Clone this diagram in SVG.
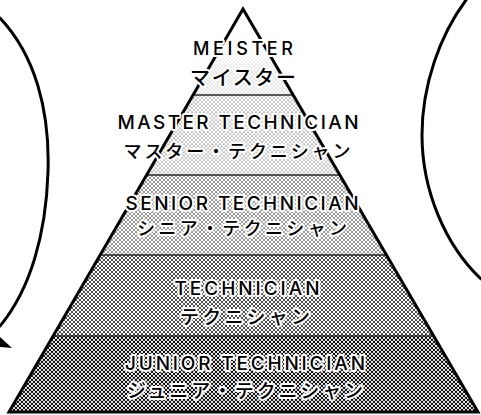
<svg xmlns="http://www.w3.org/2000/svg" width="481" height="415" viewBox="0 0 481 415">
<style>
.edge{fill:none;stroke:#000;stroke-width:3;stroke-linejoin:miter}
.div{stroke:#2a2a2a;stroke-width:1.6}
.curve{fill:none;stroke:#000;stroke-width:3;stroke-linecap:round}
.en{font-family:Inter,"Liberation Sans",Arial,sans-serif;font-weight:500;font-size:19px;fill:#000;stroke:#fff;stroke-width:4;stroke-linejoin:round;paint-order:stroke;text-anchor:middle}
.jp{font-family:"Noto Sans CJK JP","Noto Sans",sans-serif;font-weight:500;font-size:18px;fill:#000;stroke:#fff;stroke-width:4;stroke-linejoin:round;paint-order:stroke;text-anchor:middle}
</style>
<defs>
<pattern id="d1" width="4" height="4" patternUnits="userSpaceOnUse"><circle cx="0" cy="0" r="0.4"/><circle cx="4" cy="0" r="0.4"/><circle cx="0" cy="4" r="0.4"/><circle cx="4" cy="4" r="0.4"/><circle cx="2" cy="2" r="0.4"/></pattern>
<pattern id="d2" width="4" height="4" patternUnits="userSpaceOnUse"><circle cx="0" cy="0" r="0.55"/><circle cx="4" cy="0" r="0.55"/><circle cx="0" cy="4" r="0.55"/><circle cx="4" cy="4" r="0.55"/><circle cx="2" cy="2" r="0.55"/></pattern>
<pattern id="d3" width="4" height="4" patternUnits="userSpaceOnUse"><circle cx="0" cy="0" r="0.75"/><circle cx="4" cy="0" r="0.75"/><circle cx="0" cy="4" r="0.75"/><circle cx="4" cy="4" r="0.75"/><circle cx="2" cy="2" r="0.75"/></pattern>
<pattern id="d4" width="4" height="4" patternUnits="userSpaceOnUse"><circle cx="0" cy="0" r="0.95"/><circle cx="4" cy="0" r="0.95"/><circle cx="0" cy="4" r="0.95"/><circle cx="4" cy="4" r="0.95"/><circle cx="2" cy="2" r="0.95"/></pattern>
<pattern id="d5" width="4" height="4" patternUnits="userSpaceOnUse"><circle cx="0" cy="0" r="1.15"/><circle cx="4" cy="0" r="1.15"/><circle cx="0" cy="4" r="1.15"/><circle cx="4" cy="4" r="1.15"/><circle cx="2" cy="2" r="1.15"/></pattern>
<linearGradient id="fade" x1="0" y1="0" x2="0" y2="1"><stop offset="0" stop-color="#fff" stop-opacity="0"/><stop offset="0.45" stop-color="#fff" stop-opacity="0"/><stop offset="0.75" stop-color="#fff" stop-opacity="1"/><stop offset="1" stop-color="#fff" stop-opacity="1"/></linearGradient>
<mask id="topmask" maskUnits="userSpaceOnUse" x="0" y="9" width="481" height="86"><rect x="0" y="9" width="481" height="86" fill="url(#fade)"/></mask>
<clipPath id="tri"><polygon points="243,9 9,412 478,412"/></clipPath>
</defs>
<rect width="481" height="415" fill="#fff"/>
<g id="bubbles">
<path class="curve" d="M0,18 C35,55 50,110 48,172 C46,235 30,290 0,326"/>
<polygon points="0,337 12,348 0,347" fill="#000"/>
<path class="curve" d="M466,0 C440,35 422,85 422,135 C422,190 445,245 481,279"/>
</g>
<g id="pyramid" clip-path="url(#tri)">
<rect x="0" y="9" width="481" height="86" fill="url(#d1)" mask="url(#topmask)"/>
<rect x="0" y="95" width="481" height="80" fill="url(#d2)"/>
<rect x="0" y="175" width="481" height="80" fill="url(#d3)"/>
<rect x="0" y="255" width="481" height="81" fill="url(#d4)"/>
<rect x="0" y="336" width="481" height="78" fill="url(#d5)"/>
</g>
<g id="connectors" clip-path="url(#tri)">
<line class="div" x1="0" y1="95" x2="481" y2="95"/>
<line class="div" x1="0" y1="175" x2="481" y2="175"/>
<line class="div" x1="0" y1="255" x2="481" y2="255"/>
<line class="div" x1="0" y1="336" x2="481" y2="336"/>
</g>
<polygon class="edge" points="243,9 9,412 478,412"/>
<g id="meister">
<text class="en" x="243" y="55" style="font-size:18px" textLength="100" lengthAdjust="spacing">MEISTER</text>
<text class="jp" x="243" y="85" style="font-size:20px" textLength="106" lengthAdjust="spacing">マイスター</text>
</g>
<g id="master-technician">
<text class="en" x="238" y="129" textLength="241" lengthAdjust="spacing">MASTER TECHNICIAN</text>
<text class="jp" x="237" y="158" textLength="227" lengthAdjust="spacing">マスター・テクニシャン</text>
</g>
<g id="senior-technician">
<text class="en" x="242" y="210" textLength="233" lengthAdjust="spacing">SENIOR TECHNICIAN</text>
<text class="jp" x="242" y="235" textLength="210" lengthAdjust="spacing">シニア・テクニシャン</text>
</g>
<g id="technician">
<text class="en" x="247" y="295" textLength="145" lengthAdjust="spacing">TECHNICIAN</text>
<text class="jp" x="245" y="324" style="font-size:19px" textLength="130" lengthAdjust="spacing">テクニシャン</text>
</g>
<g id="junior-technician">
<text class="en" x="245" y="370" textLength="240" lengthAdjust="spacing">JUNIOR TECHNICIAN</text>
<text class="jp" x="245" y="398" style="font-size:19px" textLength="236" lengthAdjust="spacing">ジュニア・テクニシャン</text>
</g>
</svg>
